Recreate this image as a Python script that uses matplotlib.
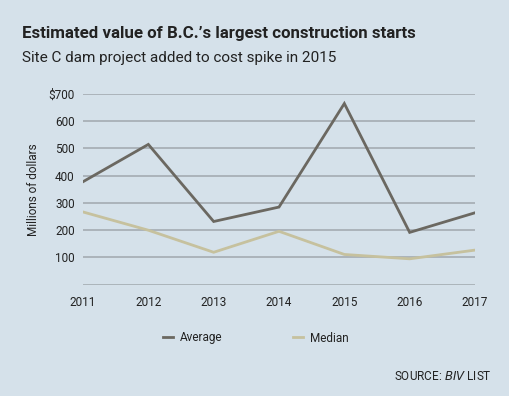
import matplotlib
matplotlib.use("Agg")
import matplotlib.pyplot as plt
from matplotlib.lines import Line2D

years = [2011, 2012, 2013, 2014, 2015, 2016, 2017]
average = [378, 515, 232, 285, 665, 192, 264]
median = [267, 200, 119, 196, 111, 95, 127]
ytick_vals = [100, 200, 300, 400, 500, 600, 700]
ytick_labels = ["100", "200", "300", "400", "500", "600", "$700"]

bg = "#d5e1ea"
avg_c = "#6b6861"
med_c = "#c6c19e"
grid_c = "#a8b0b6"
txt_c = "#222222"

plt.rcParams['font.family'] = ['Roboto', 'DejaVu Sans']

fig = plt.figure(figsize=(5.10, 3.96), dpi=100, facecolor=bg)
ax = fig.add_axes([83/510, 1-284.7/396, (475-83)/510, (284.7-94)/396])
ax.set_facecolor(bg)
ax.set_xlim(2011, 2017)
ax.set_ylim(0, 700)
for v in ytick_vals:
    ax.axhline(v, color=grid_c, lw=1.3, zorder=1)
ax.axhline(0, color=grid_c, lw=2, zorder=1)
ax.plot(years, average, color=avg_c, lw=2, zorder=3, solid_joinstyle='miter')
ax.plot(years, median, color=med_c, lw=2, zorder=3, solid_joinstyle='miter')
for s in ax.spines.values():
    s.set_visible(False)
ax.set_yticks(ytick_vals)
ax.set_yticklabels(ytick_labels, fontsize=8.5, color=txt_c)
ax.set_xticks(years)
ax.set_xticklabels([str(y) for y in years], fontsize=8.5, color=txt_c)
ax.tick_params(length=0, pad=6)
ax.tick_params(axis='x', pad=8)
ax.set_ylabel("Millions of dollars", fontsize=8.5, color=txt_c, labelpad=6)

fig.text(22/510, 1-38/396, "Estimated value of B.C.\u2019s largest construction starts",
         fontsize=12.2, fontweight='bold', color=txt_c)
fig.text(22/510, 1-62/396, "Site C dam project added to cost spike in 2015",
         fontsize=11, color=txt_c)

handles = [Line2D([0], [0], color=avg_c, lw=2), Line2D([0], [0], color=med_c, lw=2)]
fig.legend(handles, ["Average", "Median"], loc='center', bbox_to_anchor=(256/510, 1-338/396),
           ncol=2, frameon=False, fontsize=8.5, handlelength=0.8, columnspacing=6,
           handletextpad=0.6, labelcolor=txt_c)

fig.text(492/510, 1-376/396, "SOURCE: $\\it{BIV}$ LIST", ha='right', va='center',
         fontsize=8.5, color=txt_c)

fig.savefig("out.png", dpi=100, facecolor=bg)
